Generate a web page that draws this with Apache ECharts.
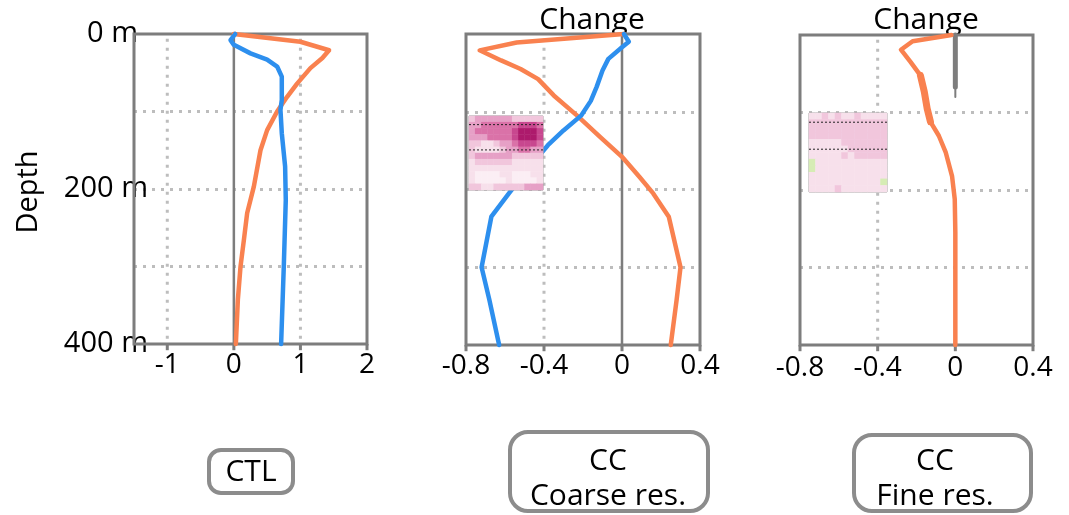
<!DOCTYPE html>
<html>
<head>
<meta charset="utf-8">
<script src="https://cdn.jsdelivr.net/npm/echarts@6/dist/echarts.min.js"></script>
<style>
  html, body { margin: 0; padding: 0; background: #fff; }
  #chart { width: 1069px; height: 515px; }
</style>
</head>
<body>
<div id="chart"></div>
<script>
// ---- profile data: [value, depth in m] ----
const ctlOrange = [[0, 0], [1.0, 10], [1.43, 21], [1.33, 31], [1.15, 44], [0.95, 64], [0.8, 81], [0.65, 100],
  [0.5, 124], [0.4, 150], [0.3, 197], [0.2, 231], [0.15, 266], [0.1, 300], [0.06, 343], [0.03, 400]];
const ctlBlue = [[0.02, 0], [-0.05, 8], [0.0, 14], [0.25, 25], [0.5, 33], [0.65, 42], [0.72, 55], [0.72, 85],
  [0.7, 98], [0.72, 128], [0.77, 171], [0.78, 214], [0.75, 300], [0.71, 400]];

const coarseOrange = [[0.01, 0], [-0.54, 11], [-0.73, 21], [-0.62, 34], [-0.52, 45], [-0.43, 58], [-0.35, 79],
  [-0.23, 105], [-0.11, 133], [0, 158], [0.09, 184], [0.16, 205], [0.24, 235], [0.3, 300], [0.28, 342], [0.25, 400]];
const coarseBlue = [[0.01, 0], [0.035, 10], [0, 17], [-0.07, 32], [-0.1, 47], [-0.13, 68], [-0.16, 86],
  [-0.21, 105], [-0.3, 124], [-0.38, 143], [-0.47, 170], [-0.58, 205], [-0.67, 235], [-0.72, 300], [-0.68, 342], [-0.63, 400]];

const fineOrange = [[-0.02, 0], [-0.22, 8], [-0.28, 19], [-0.23, 35], [-0.18, 52], [-0.16, 73], [-0.145, 95],
  [-0.128, 112], [-0.085, 130], [-0.05, 151], [-0.017, 182], [-0.003, 212], [0, 255], [0, 400]];
const fineOrangeBold = [[-0.18, 52], [-0.16, 73], [-0.145, 95], [-0.128, 112]];
const fineZeroBar = [[0, 0], [0, 67]];
const fineZeroThin = [[0, 67], [0, 80]];

// ---- axes ----
const depthRange = [0, 400];
const depthStep = 100;
const tickDepth = 408;
const ctlRange = [-1.5, 2];
const ctlTicks = [-1, 0, 1, 2];
const ctlDotted = [-1, 1];
const changeRange = [-0.8, 0.4];
const changeTicks = [-0.8, -0.4, 0, 0.4];
const changeDotted = [-0.4];

// ---- inset section maps (colour level per cell, 12 x 12; -1 = green) ----
const coarseInset = [
  [2, 3, 3, 3, 3, 3, 3, 2, 2, 2, 2, 2],
  [3, 3, 4, 4, 4, 4, 4, 4, 5, 5, 5, 4],
  [3, 4, 4, 4, 4, 4, 4, 5, 6, 6, 6, 5],
  [3, 3, 3, 4, 4, 4, 4, 5, 6, 6, 6, 5],
  [2, 2, 1, 1, 2, 3, 3, 4, 5, 5, 5, 4],
  [2, 1, 1, 1, 1, 2, 3, 3, 4, 4, 3, 3],
  [2, 3, 3, 3, 3, 3, 3, 2, 2, 2, 2, 2],
  [1, 2, 2, 2, 2, 2, 2, 1, 1, 1, 1, 1],
  [1, 1, 1, 1, 1, 1, 1, 1, 1, 1, 1, 1],
  [1, 0, 0, 0, 0, 1, 1, 0, 0, 0, 1, 1],
  [1, 0, 0, 0, 0, 0, 1, 0, 0, 0, 0, 1],
  [2, 2, 1, 1, 2, 2, 2, 2, 2, 3, 3, 3]
];
const fineInset = [
  [1, 1, 2, 1, 2, 1, 1, 2, 1, 1, 1, 1],
  [2, 2, 2, 2, 2, 2, 2, 2, 2, 2, 2, 2],
  [2, 2, 2, 2, 2, 2, 2, 2, 2, 2, 2, 2],
  [2, 2, 2, 2, 2, 2, 2, 2, 2, 2, 2, 2],
  [1, 1, 1, 1, 1, 2, 2, 2, 2, 2, 2, 2],
  [1, 1, 1, 1, 1, 1, 2, 2, 2, 2, 2, 2],
  [1, 1, 1, 1, 1, 2, 1, 2, 2, 2, 2, 2],
  [-1, 1, 1, 1, 1, 1, 1, 1, 1, 1, 1, 1],
  [-1, 1, 1, 1, 1, 1, 1, 1, 1, 1, 1, 1],
  [1, 1, 1, 1, 1, 1, 1, 1, 1, 1, 1, 1],
  [1, 1, 1, 1, 1, 1, 1, 1, 1, 1, 1, -1],
  [1, 1, 1, 1, 2, 1, 1, 1, 1, 1, 1, 1]
];
const insetLevels = [-1, 0, 1, 2, 3, 4, 5, 6];
const insetColors = ['#d6ecb4', '#fbeef4', '#f7e0eb', '#f1c6dc', '#e6a0c6', '#da72a8', '#c8478f', '#ad1a6c'];
const insetDashRows = [1.4, 5.5];

const FONT = '"Open Sans", "Noto Sans", sans-serif';
const ORANGE = '#f9814f';
const BLUE = '#2d8fee';
const GRAY = '#7d7d7d';

const cols = Array.from({ length: 12 }, (_, i) => i);

function cells(matrix) {
  const out = [];
  matrix.forEach((row, r) => row.forEach((v, c) => out.push([c, r, v])));
  return out;
}

function profileGrid(left, top, width, height) {
  return { left, top, width, height, show: true, borderColor: GRAY, borderWidth: 3, backgroundColor: 'transparent', containLabel: false, z: 2 };
}

function valueX(gridIndex, range, ticks, labelGap) {
  return {
    type: 'value', gridIndex, min: range[0], max: range[1], position: 'bottom',
    axisLine: { show: false }, splitLine: { show: false }, axisTick: { show: false },
    axisLabel: { customValues: ticks, fontFamily: FONT, fontSize: 28, color: '#000', margin: labelGap,
      formatter: v => String(Math.round(v * 10) / 10) }
  };
}

function depthY(gridIndex, withLabels) {
  return {
    type: 'value', gridIndex, inverse: true, min: depthRange[0], max: depthRange[1], interval: depthStep,
    axisLine: { show: false }, axisTick: { show: false },
    splitLine: { show: true, showMinLine: false, showMaxLine: false, lineStyle: { color: '#bdbdbd', width: 3, type: [3, 6] } },
    axisLabel: { show: withLabels, fontFamily: FONT, fontSize: 29, color: '#000', margin: -14,
      formatter: v => (v === 0 ? '{top|0 m}' : v % 200 === 0 ? v + ' m' : ''),
      rich: { top: { fontFamily: FONT, fontSize: 29, color: '#000', padding: [0, 10, 0, 0] } } }
  };
}

function vline(axisIdx, x, style, from, to) {
  return {
    type: 'line', xAxisIndex: axisIdx, yAxisIndex: axisIdx, data: [[x, from], [x, to]],
    showSymbol: false, silent: true, clip: false, z: 1, lineStyle: style
  };
}

const dotted = { color: '#bdbdbd', width: 3, type: [3, 6] };
const zeroLine = { color: GRAY, width: 2.5 };
const tickStyle = { color: GRAY, width: 3 };

function profile(axisIdx, data, color, width) {
  return {
    type: 'line', xAxisIndex: axisIdx, yAxisIndex: axisIdx, data, showSymbol: false, clip: false,
    silent: true, z: 3, lineStyle: { color, width, cap: 'round', join: 'round' }
  };
}

const series = [];
// CTL panel
ctlDotted.forEach(x => series.push(vline(0, x, dotted, 6, depthRange[1])));
ctlTicks.forEach(x => series.push(vline(0, x, tickStyle, depthRange[1], tickDepth)));
series.push(vline(0, 0, zeroLine, 0, depthRange[1]));
series.push(profile(0, ctlOrange, ORANGE, 4.5));
series.push(profile(0, ctlBlue, BLUE, 4.5));
// coarse-resolution change panel
changeDotted.forEach(x => series.push(vline(1, x, dotted, 6, depthRange[1])));
changeTicks.forEach(x => series.push(vline(1, x, tickStyle, depthRange[1], tickDepth)));
series.push(vline(1, 0, zeroLine, 0, depthRange[1]));
series.push(profile(1, coarseOrange, ORANGE, 4.5));
series.push(profile(1, coarseBlue, BLUE, 4.5));
// fine-resolution change panel
changeDotted.forEach(x => series.push(vline(2, x, dotted, 6, depthRange[1])));
changeTicks.forEach(x => series.push(vline(2, x, tickStyle, depthRange[1], tickDepth)));
series.push(profile(2, fineZeroBar, GRAY, 5));
series.push(profile(2, fineZeroThin, GRAY, 2));
series.push(profile(2, fineOrange, ORANGE, 4.5));
series.push(profile(2, fineOrangeBold, ORANGE, 7));

// insets (section maps)
const heatIdx = [];
[[coarseInset, 3], [fineInset, 4]].forEach(([m, ax]) => {
  heatIdx.push(series.length);
  series.push({
    type: 'heatmap', xAxisIndex: ax, yAxisIndex: ax, data: cells(m), silent: true, z: 5,
    itemStyle: { borderWidth: 0 }
  });
  insetDashRows.forEach(r => {
    series.push({
      type: 'line', xAxisIndex: ax + 2, yAxisIndex: ax + 2, data: [[0, r], [12, r]], showSymbol: false,
      silent: true, z: 6, lineStyle: { color: '#222', width: 1, type: [2, 2] }
    });
  });
});

const insetGrid = (left, top, w, h) => ({ left, top, width: w, height: h, show: true, borderColor: '#999', borderWidth: 1, backgroundColor: '#fff', z: 4 });

const boxText = { fontFamily: FONT, fontSize: 30, lineHeight: 35, fill: '#000', align: 'center', verticalAlign: 'middle' };
const boxStroke = { fill: '#fff', stroke: '#8c8c8c', lineWidth: 4 };

const option = {
  animation: false,
  backgroundColor: '#fff',
  grid: [
    profileGrid(134, 34, 233, 310),
    profileGrid(466, 34, 234, 311),
    profileGrid(800, 35, 233, 310),
    insetGrid(469, 116, 74, 74),
    insetGrid(809, 113, 78, 79)
  ],
  xAxis: [
    valueX(0, ctlRange, ctlTicks, 7),
    valueX(1, changeRange, changeTicks, 7),
    valueX(2, changeRange, changeTicks, 9),
    { type: 'category', gridIndex: 3, data: cols, show: false },
    { type: 'category', gridIndex: 4, data: cols, show: false },
    { type: 'value', gridIndex: 3, min: 0, max: 12, show: false },
    { type: 'value', gridIndex: 4, min: 0, max: 12, show: false }
  ],
  yAxis: [
    depthY(0, true),
    depthY(1, false),
    depthY(2, false),
    { type: 'category', gridIndex: 3, data: cols, inverse: true, show: false },
    { type: 'category', gridIndex: 4, data: cols, inverse: true, show: false },
    { type: 'value', gridIndex: 3, min: 0, max: 12, inverse: true, show: false },
    { type: 'value', gridIndex: 4, min: 0, max: 12, inverse: true, show: false }
  ],
  visualMap: {
    type: 'piecewise', show: false, seriesIndex: heatIdx, dimension: 2,
    pieces: insetLevels.map((v, i) => ({ value: v, color: insetColors[i] }))
  },
  graphic: [
    { type: 'text', x: 29, y: 192, rotation: Math.PI / 2,
      style: { text: 'Depth', fontFamily: FONT, fontSize: 29, fill: '#000', align: 'center', verticalAlign: 'middle' } },
    { type: 'text', x: 592, y: 20,
      style: { text: 'Change', fontFamily: FONT, fontSize: 30, fill: '#000', align: 'center', verticalAlign: 'middle' } },
    { type: 'text', x: 926, y: 20,
      style: { text: 'Change', fontFamily: FONT, fontSize: 30, fill: '#000', align: 'center', verticalAlign: 'middle' } },
    { type: 'rect', shape: { x: 209, y: 450, width: 84, height: 43, r: 12 }, style: boxStroke },
    { type: 'text', x: 251, y: 472, style: Object.assign({}, boxText, { text: 'CTL' }) },
    { type: 'rect', shape: { x: 510, y: 432, width: 198, height: 79, r: 18 }, style: boxStroke },
    { type: 'text', x: 608, y: 479, style: Object.assign({}, boxText, { text: 'CC\nCoarse res.' }) },
    { type: 'rect', shape: { x: 854, y: 435, width: 177, height: 76, r: 18 }, style: boxStroke },
    { type: 'text', x: 935, y: 479, style: Object.assign({}, boxText, { text: 'CC\nFine res.' }) }
  ],
  series
};

const chart = echarts.init(document.getElementById('chart'), null, { renderer: 'canvas' });
chart.setOption(option);
</script>
</body>
</html>
